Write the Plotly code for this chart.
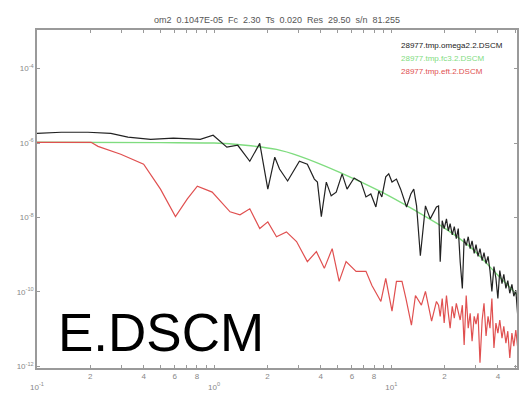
import plotly.graph_objects as go

# ---- data ----
black_f = [0.1, 0.137, 0.194, 0.261, 0.326, 0.438, 0.589, 0.835, 0.987, 1.18, 1.36, 1.59, 1.81,
           2.01, 2.20, 2.34, 2.60, 3.03, 3.36, 3.68, 3.83, 4.03, 4.30, 4.58, 4.89, 5.28, 5.63, 6.17,
           6.75, 7.20, 7.67, 8.19, 8.51, 8.85, 9.31, 9.68, 10.1, 10.7, 11.3, 11.7, 12.2, 12.9, 13.4,
           13.9, 14.6, 15.6, 16.6, 18.0,
           18.5, 18.9, 19.4, 19.9, 20.5, 21.0, 21.5, 22.1, 22.7, 23.3, 23.9, 24.5, 25.2, 25.8, 26.5,
           27.2, 27.9, 28.6, 29.4, 30.1, 30.9, 31.7, 32.6, 33.4, 34.3, 35.2, 36.1, 37.0, 38.0, 39.0,
           40.0, 41.0, 42.2, 43.2, 44.4, 45.5, 46.7, 48.0, 49.2, 50.5, 51.8]
black_exp = [-5.74, -5.71, -5.71, -5.74, -5.84, -5.90, -5.87, -5.90, -5.79, -6.11, -6.06, -6.49, -6.01,
             -7.24, -6.38, -6.70, -7.02, -6.49, -6.57, -6.97, -7.05, -7.98, -7.05, -7.42, -7.32, -6.83, -7.24, -6.94,
             -7.05, -7.45, -7.37, -7.72, -7.29, -7.45, -6.91, -6.83, -7.05, -6.97, -7.24, -7.45, -7.72, -7.37, -7.24,
             -7.69, -9.03, -7.69, -8.04, -7.72,
             -7.69, -9.19, -8.09, -8.30, -8.04, -8.36, -8.17, -8.47, -8.25, -8.57, -8.30, -9.19, -9.91, -8.57, -8.76,
             -8.52, -8.84, -8.63, -8.97, -8.73, -9.05, -8.84, -9.16, -8.95, -9.24, -9.05, -9.43, -9.99, -9.32, -9.64,
             -10.18, -9.43, -9.78, -9.53, -9.91, -9.70, -10.04, -9.80, -10.12, -9.96, -10.66]

green_f = [0.1, 0.5, 1.0, 1.5, 2.25, 3.03, 5.08, 8.85, 13.7, 20.2, 28.0, 39.0, 51.8]
green_exp = [-5.98, -5.99, -6.00, -6.06, -6.17, -6.35, -6.78, -7.32, -7.82, -8.30, -8.80, -9.50, -10.10]

red_f = [0.1, 0.202, 0.221, 0.297, 0.400, 0.498, 0.605, 0.706, 0.804, 0.975, 1.23, 1.40, 1.59, 1.81,
         2.01, 2.25, 2.56, 2.92, 3.36, 3.78, 4.19, 4.64, 5.08, 5.56, 6.33, 7.20, 7.78, 8.74, 9.31,
         10.1, 10.7, 11.5, 12.1, 13.0, 13.7, 14.8, 15.6, 16.9, 18.0,
         18.5, 18.9, 19.4, 19.9, 20.5, 21.0, 21.5, 22.1, 22.7, 23.3, 23.9, 24.5, 25.2, 25.8, 26.5,
         27.2, 27.9, 28.6, 29.4, 30.1, 30.9, 31.7, 32.6, 33.4, 34.3, 35.2, 36.1, 37.0, 38.0, 39.0,
         40.0, 41.0, 42.2, 43.2, 44.4, 45.5, 46.7, 48.0, 49.2, 50.5, 51.8]
red_exp = [-5.98, -5.98, -6.09, -6.30, -6.57, -7.24, -7.98, -7.50, -7.16, -7.32, -7.85, -7.93, -7.77, -8.30,
           -8.12, -8.52, -8.39, -8.65, -9.19, -8.92, -9.37, -8.84, -9.72, -9.19, -9.45, -9.45, -9.83, -10.26, -9.64,
           -10.52, -9.72, -9.72, -10.18, -10.90, -10.10, -10.36, -9.99, -10.79, -10.26,
           -10.36, -10.66, -10.18, -10.84, -10.10, -10.58, -10.98, -10.39, -10.71, -10.31, -10.50, -10.76, -10.36, -11.43, -10.10,
           -10.98, -10.58, -11.33, -10.66, -10.87, -10.58, -11.91, -10.76, -10.31, -11.19, -10.66, -10.98, -10.18, -11.51, -10.84,
           -11.11, -10.76, -11.25, -10.93, -11.38, -11.06, -11.78, -11.11, -11.46, -11.03, -11.51]

title_text = "om2  0.1047E-05  Fc  2.30  Ts  0.020  Res  29.50  s/n  81.255"
legend_names = ["28977.tmp.omega2.2.DSCM", "28977.tmp.fc3.2.DSCM", "28977.tmp.eft.2.DSCM"]
legend_colors = ["#222222", "#7fdc7f", "#e05050"]
big_label = "E.DSCM"

x_tickvals = [0.1, 0.2, 0.4, 0.6, 0.8, 1, 2, 4, 6, 8, 10, 20, 40]
x_ticktext = ["<br>10<sup>-1</sup>", "2", "4", "6", "8", "<br>10<sup>0</sup>",
              "2", "4", "6", "8", "<br>10<sup>1</sup>", "2", "4"]
x_minorvals = [0.3, 0.5, 0.7, 0.9, 3, 5, 7, 9, 30, 50]
y_tickvals = [1e-4, 1e-6, 1e-8, 1e-10, 1e-12]
y_ticktext = ["10<sup>-4</sup>", "10<sup>-6</sup>", "10<sup>-8</sup>", "10<sup>-10</sup>", "10<sup>-12</sup>"]

fig = go.Figure()
fig.add_trace(go.Scatter(x=green_f, y=[10 ** e for e in green_exp], mode="lines",
                         line=dict(color=legend_colors[1], width=1.4, shape="spline", smoothing=0.8)))
fig.add_trace(go.Scatter(x=red_f, y=[10 ** e for e in red_exp], mode="lines",
                         line=dict(color=legend_colors[2], width=1.2)))
fig.add_trace(go.Scatter(x=black_f, y=[10 ** e for e in black_exp], mode="lines",
                         line=dict(color=legend_colors[0], width=1.2)))

axis_common = dict(showgrid=False, zeroline=False, showline=True, linecolor="#9a9a9a", linewidth=1.5,
                   mirror="allticks", ticks="inside", ticklen=3, tickcolor="#9a9a9a",
                   tickfont=dict(family="Liberation Sans", size=8, color="#888888"))
fig.update_xaxes(type="log", range=[-1, 1.71], tickmode="array", tickvals=x_tickvals,
                 ticktext=x_ticktext, tickangle=0,
                 minor=dict(tickmode="array", tickvals=x_minorvals, ticks="inside", ticklen=3,
                            tickcolor="#9a9a9a"),
                 **axis_common)
fig.update_yaxes(type="log", range=[-12.05, -2.96], tickmode="array", tickvals=y_tickvals,
                 ticktext=y_ticktext, **axis_common)

annotations = [
    dict(text=title_text, x=0.5, y=1.03, xref="paper", yref="paper", xanchor="center", yanchor="middle",
         showarrow=False, font=dict(family="Liberation Sans", size=9, color="#555555")),
    dict(text=big_label, x=0.04, y=0.012, xref="paper", yref="paper", xanchor="left", yanchor="bottom",
         showarrow=False, font=dict(family="Liberation Sans", size=53, color="#000000")),
]
for i, (name, col) in enumerate(zip(legend_names, legend_colors)):
    annotations.append(dict(text=name, x=0.755, y=0.953 - i * 0.038, xref="paper", yref="paper",
                            xanchor="left", yanchor="middle", showarrow=False,
                            font=dict(family="Liberation Sans", size=8, color=col)))

fig.update_layout(width=524, height=397, margin=dict(l=37, r=5, t=30, b=27),
                  paper_bgcolor="white", plot_bgcolor="white", showlegend=False,
                  annotations=annotations)
fig.write_html("out.html")
